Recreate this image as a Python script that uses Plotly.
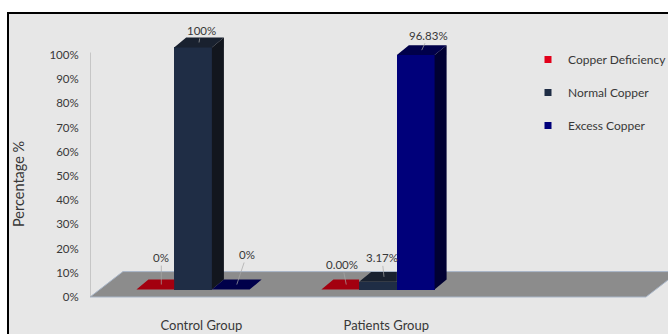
import plotly.graph_objects as go

# ---------------- data ----------------
categories = ["Control Group", "Patients Group"]
series_names = ["Copper Deficiency", "Normal Copper", "Excess Copper"]
copper_deficiency = [0.0, 0.0]
normal_copper = [1.0, 0.0317]
excess_copper = [0.0, 0.9683]
label_texts_deficiency = ["0%", "0.00%"]
label_texts_normal = ["100%", "3.17%"]
label_texts_excess = ["0%", "96.83%"]
y_tick_vals = [0.0, 0.1, 0.2, 0.3, 0.4, 0.5, 0.6, 0.7, 0.8, 0.9, 1.0]
y_tick_text = ["0%", "10%", "20%", "30%", "40%", "50%", "60%", "70%", "80%", "90%", "100%"]

series_values = [copper_deficiency, normal_copper, excess_copper]
series_labels = [label_texts_deficiency, label_texts_normal, label_texts_excess]

# ---------------- style ----------------
W, H = 668, 334
FONT = "Lato"
TXT = "#383838"
legend_colors = ["#e2001a", "#1f2d45", "#00007a"]
front_colors = ["#c00010", "#1f2d45", "#00007a"]
top_colors = ["#a3000f", "#19212f", "#00004a"]
side_colors = ["#6e000a", "#12161e", "#000033"]

X_RANGE = [-0.557, 2.568]
Y_RANGE = [-0.033, 1.165]
X_DOMAIN = [90 / W, 1.0]
Y_DOMAIN = [29 / H, 319 / H]

BW = 0.204      # bar width (x units)
BASE = 0.031    # bar base above floor front edge
DX = 0.065      # 3D depth offset x
DY = 0.041      # 3D depth offset y
FLOOR_RIGHT = 2.449
FLOOR_DX = 0.178
FLOOR_DY = 0.105
TICK_SHIFT = 0.045

# label offsets in pixels (ax, ay) per series per group
label_offsets = [[(0, -27), (-4, -20)],
                 [(2, -12), (-2, -19)],
                 [(10, -30), (7, -15)]]


def clip_y_above(poly, c):
    """Keep part of polygon with y >= c."""
    out = []
    n = len(poly)
    for k in range(n):
        p = poly[k]
        q = poly[(k + 1) % n]
        pin = p[1] >= c
        qin = q[1] >= c
        if pin:
            out.append(p)
        if pin != qin:
            t = (c - p[1]) / (q[1] - p[1])
            out.append((p[0] + t * (q[0] - p[0]), c))
    return out


def clip_x_below(poly, c):
    """Keep part of polygon with x <= c."""
    out = []
    n = len(poly)
    for k in range(n):
        p = poly[k]
        q = poly[(k + 1) % n]
        pin = p[0] <= c
        qin = q[0] <= c
        if pin:
            out.append(p)
        if pin != qin:
            t = (c - p[0]) / (q[0] - p[0])
            out.append((c, p[1] + t * (q[1] - p[1])))
    return out


fig = go.Figure()

n_series = len(series_values)
face_traces = []
annotations = []
for i, vals in enumerate(series_values):
    xs = [g + (i - 1) * BW for g in range(len(categories))]
    fig.add_trace(go.Bar(
        x=xs, y=vals, base=BASE, width=BW,
        marker=dict(color=front_colors[i], line=dict(width=0)),
        name=series_names[i], showlegend=False, hoverinfo="skip"))
    top_x, top_y, side_x, side_y = [], [], [], []
    for g, v in enumerate(vals):
        xc = xs[g]
        xl, xr = xc - BW / 2, xc + BW / 2
        t = BASE + v
        nxt = series_values[i + 1][g] if i + 1 < n_series else None
        top = [(xl, t), (xr, t), (xr + DX, t + DY), (xl + DX, t + DY)]
        side = [(xr, BASE), (xr + DX, BASE + DY), (xr + DX, t + DY), (xr, t)] if v > 0 else []
        if nxt is not None:
            tn = BASE + nxt
            if side:
                side = clip_y_above(side, tn)
            if tn > t:
                top = clip_x_below(top, xr)
        for poly, px, py in ((top, top_x, top_y), (side, side_x, side_y)):
            if len(poly) >= 3:
                px.extend([p[0] for p in poly] + [poly[0][0], None])
                py.extend([p[1] for p in poly] + [poly[0][1], None])
        ax, ay = label_offsets[i][g]
        annotations.append(dict(
            x=xc + DX / 2, y=t + DY / 2, xref="x", yref="y",
            text=series_labels[i][g], showarrow=True, ax=ax, ay=ay,
            arrowhead=0, arrowwidth=0.7, arrowcolor="#a6a6a6", standoff=0,
            font=dict(family=FONT, size=11.5, color=TXT)))
    face_traces.append(go.Scatter(x=top_x, y=top_y, mode="lines", fill="toself",
                                  fillcolor=top_colors[i], line=dict(width=0),
                                  showlegend=False, hoverinfo="skip"))
    face_traces.append(go.Scatter(x=side_x, y=side_y, mode="lines", fill="toself",
                                  fillcolor=side_colors[i], line=dict(width=0),
                                  showlegend=False, hoverinfo="skip"))

for tr in face_traces:
    fig.add_trace(tr)

# legend entries
for i, name in enumerate(series_names):
    fig.add_trace(go.Scatter(x=[None], y=[None], mode="markers", name=name,
                             legendgroup=name,
                             marker=dict(symbol="square", size=7, color=legend_colors[i])))

shapes = [
    # chart area
    dict(type="rect", xref="paper", yref="paper", x0=8 / W, x1=1.05, y0=-0.05, y1=1 - 13 / H,
         fillcolor="#e7e7e7", line=dict(color="black", width=2), layer="below"),
    # floor
    dict(type="path", xref="x", yref="y", layer="below",
         path=(f"M{X_RANGE[0]},0 L{FLOOR_RIGHT},0 L{FLOOR_RIGHT + FLOOR_DX},{FLOOR_DY} "
               f"L{X_RANGE[0] + FLOOR_DX},{FLOOR_DY} Z"),
         fillcolor="#8c8c8c", line=dict(color="#a9b6c8", width=1)),
    # y axis line
    dict(type="line", xref="x", yref="y", x0=X_RANGE[0], x1=X_RANGE[0], y0=0, y1=1.01,
         line=dict(color="#a6a6a6", width=1), layer="below"),
]

annotations.append(dict(x=18 / W, y=1 - 184 / H, xref="paper", yref="paper",
                        xanchor="center", yanchor="middle",
                        text="Percentage %", showarrow=False, textangle=-90,
                        font=dict(family=FONT, size=14.5, color=TXT)))

fig.update_layout(
    width=W, height=H, margin=dict(l=0, r=0, t=0, b=0, autoexpand=False),
    paper_bgcolor="white", plot_bgcolor="rgba(0,0,0,0)",
    barmode="overlay", bargap=0,
    shapes=shapes, annotations=annotations,
    showlegend=True,
    legend=dict(x=528 / W, y=1 - 45 / H, xanchor="left", yanchor="top",
                bgcolor="rgba(0,0,0,0)", tracegroupgap=14,
                font=dict(family=FONT, size=12, color=TXT)),
    font=dict(family=FONT, color=TXT),
    xaxis=dict(domain=X_DOMAIN, range=X_RANGE, showgrid=False, zeroline=False,
               showline=False, tickvals=[g + TICK_SHIFT for g in range(len(categories))],
               ticktext=categories, ticks="outside", ticklen=8,
               tickcolor="rgba(0,0,0,0)", automargin=False,
               tickfont=dict(family=FONT, size=13, color=TXT)),
    yaxis=dict(domain=Y_DOMAIN, range=Y_RANGE, showgrid=False, zeroline=False,
               showline=False, tickvals=y_tick_vals, ticktext=y_tick_text,
               ticks="outside", ticklen=8, tickcolor="rgba(0,0,0,0)", automargin=False,
               tickfont=dict(family=FONT, size=11.5, color=TXT)),
)

fig.write_html("out.html")
